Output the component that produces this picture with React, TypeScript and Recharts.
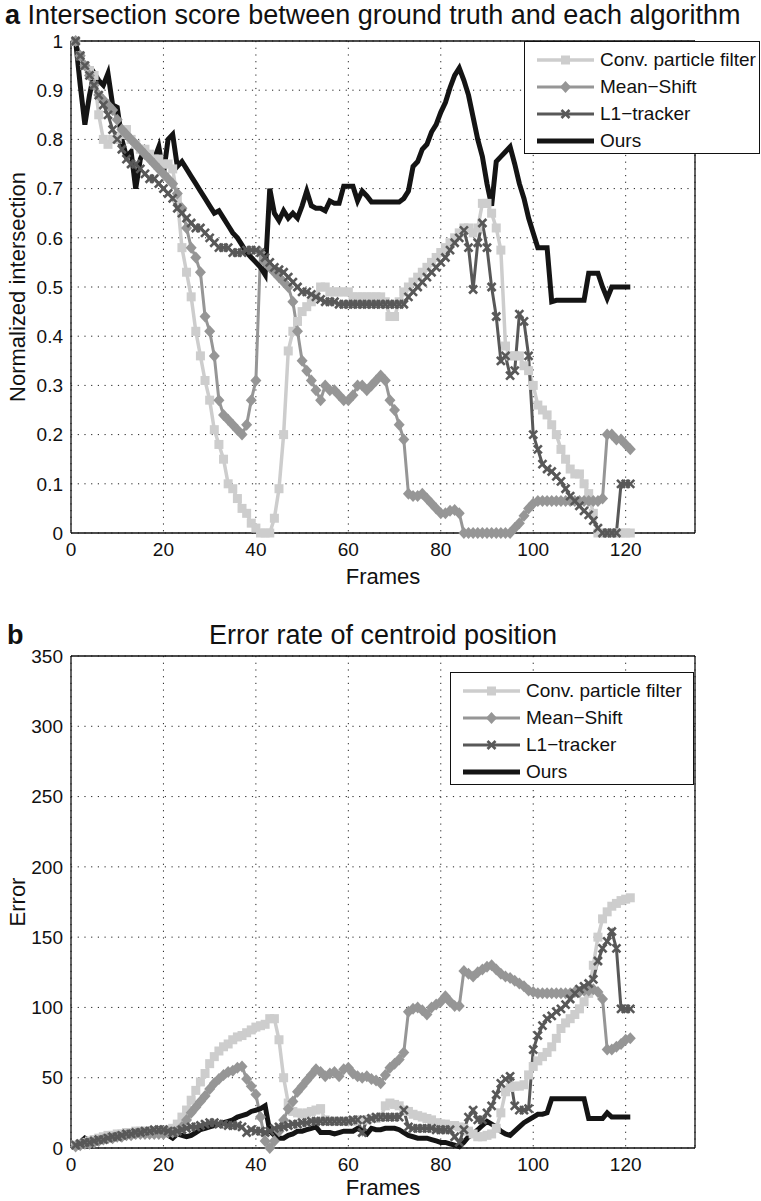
import React from 'react';
import { LineChart, Line, XAxis, YAxis, CartesianGrid, Legend } from 'recharts';

const frames = [
  1, 2, 3, 4, 5, 6, 7, 8, 9, 10,
  11, 12, 13, 14, 15, 16, 17, 18, 19, 20,
  21, 22, 23, 24, 25, 26, 27, 28, 29, 30,
  31, 32, 33, 34, 35, 36, 37, 38, 39, 40,
  41, 42, 43, 44, 45, 46, 47, 48, 49, 50,
  51, 52, 53, 54, 55, 56, 57, 58, 59, 60,
  61, 62, 63, 64, 65, 66, 67, 68, 69, 70,
  71, 72, 73, 74, 75, 76, 77, 78, 79, 80,
  81, 82, 83, 84, 85, 86, 87, 88, 89, 90,
  91, 92, 93, 94, 95, 96, 97, 98, 99, 100,
  101, 102, 103, 104, 105, 106, 107, 108, 109, 110,
  111, 112, 113, 114, 115, 116, 117, 118, 119, 120, 121,
];

const xTicks = [0, 20, 40, 60, 80, 100, 120];
const yTicksA = [0, 0.1, 0.2, 0.3, 0.4, 0.5, 0.6, 0.7, 0.8, 0.9, 1];
const yTicksB = [0, 50, 100, 150, 200, 250, 300, 350];

const seriesNames = ['Conv. particle filter', 'Mean\u2212Shift', 'L1\u2212tracker', 'Ours'];

// (a) Normalized intersection
const pfA = [
  1.0, 0.97, 0.95, 0.94, 0.93, 0.85, 0.80, 0.79, 0.80, 0.80,
  0.81, 0.82, 0.80, 0.79, 0.78, 0.78, 0.77, 0.76, 0.76, 0.75,
  0.75, 0.74, 0.68, 0.58, 0.53, 0.48, 0.41, 0.36, 0.31, 0.27,
  0.21, 0.18, 0.15, 0.10, 0.09, 0.07, 0.05, 0.04, 0.02, 0.01,
  0.0, 0.0, 0.0, 0.03, 0.09, 0.20, 0.37, 0.41, 0.43, 0.45,
  0.46, 0.47, 0.48, 0.50, 0.50, 0.49, 0.49, 0.49, 0.49, 0.49,
  0.48, 0.48, 0.48, 0.48, 0.48, 0.48, 0.48, 0.47, 0.44, 0.44,
  0.47, 0.49, 0.50, 0.51, 0.52, 0.53, 0.54, 0.55, 0.56, 0.57,
  0.58, 0.59, 0.60, 0.61, 0.62, 0.62, 0.61, 0.62, 0.67, 0.67,
  0.65, 0.62, 0.575, 0.38, 0.36, 0.36, 0.36, 0.34, 0.33, 0.30,
  0.26, 0.25, 0.24, 0.22, 0.20, 0.17, 0.15, 0.13, 0.12, 0.12,
  0.10, 0.08, 0.04, 0.0, 0.0, 0.0, 0.0, 0.0, 0.0, 0.0, 0.0,
];
const msA = [
  1.0, 0.97, 0.95, 0.93, 0.91, 0.89, 0.88, 0.87, 0.86, 0.84,
  0.82, 0.81, 0.80, 0.79, 0.78, 0.77, 0.76, 0.75, 0.74, 0.73,
  0.72, 0.71, 0.69, 0.66, 0.62, 0.58, 0.56, 0.53, 0.44, 0.41,
  0.36, 0.27, 0.24, 0.23, 0.22, 0.21, 0.20, 0.22, 0.27, 0.31,
  0.57, 0.55, 0.54, 0.53, 0.52, 0.51, 0.50, 0.47, 0.41, 0.35,
  0.33, 0.31, 0.29, 0.27, 0.30, 0.29, 0.29, 0.28, 0.27, 0.27,
  0.28, 0.30, 0.30, 0.29, 0.30, 0.31, 0.32, 0.31, 0.27, 0.25,
  0.22, 0.19, 0.08, 0.075, 0.075, 0.08, 0.07, 0.06, 0.05, 0.04,
  0.04, 0.045, 0.047, 0.04, 0.0, 0.0, 0.0, 0.0, 0.0, 0.0,
  0.0, 0.0, 0.0, 0.0, 0.0, 0.01, 0.02, 0.035, 0.05, 0.06,
  0.065, 0.065, 0.065, 0.065, 0.065, 0.065, 0.065, 0.065, 0.065, 0.065,
  0.065, 0.065, 0.065, 0.065, 0.07, 0.20, 0.20, 0.19, 0.19, 0.18, 0.17,
];
const l1A = [
  1.0, 0.97, 0.95, 0.93, 0.91, 0.89, 0.87, 0.85, 0.82, 0.80,
  0.78, 0.76, 0.75, 0.75, 0.74, 0.73, 0.72, 0.72, 0.71, 0.70,
  0.69, 0.68, 0.66, 0.65, 0.64, 0.63, 0.62, 0.62, 0.61, 0.60,
  0.59, 0.58, 0.58, 0.58, 0.57, 0.57, 0.57, 0.575, 0.575, 0.575,
  0.57, 0.56, 0.55, 0.54, 0.535, 0.53, 0.52, 0.51, 0.50, 0.49,
  0.49, 0.485, 0.48, 0.475, 0.47, 0.47, 0.47, 0.465, 0.465, 0.465,
  0.465, 0.465, 0.465, 0.465, 0.465, 0.465, 0.465, 0.465, 0.465, 0.465,
  0.465, 0.465, 0.48, 0.49, 0.50, 0.51, 0.52, 0.53, 0.54, 0.55,
  0.56, 0.575, 0.59, 0.60, 0.615, 0.58, 0.495, 0.59, 0.63, 0.58,
  0.50, 0.44, 0.35, 0.36, 0.32, 0.33, 0.445, 0.43, 0.36, 0.20,
  0.17, 0.14, 0.13, 0.125, 0.115, 0.105, 0.09, 0.075, 0.065, 0.055,
  0.045, 0.037, 0.025, 0.01, 0.0, 0.0, 0.0, 0.0, 0.10, 0.10, 0.10,
];
const oursA = [
  1.0, 0.91, 0.83, 0.89, 0.935, 0.92, 0.91, 0.934, 0.87, 0.865,
  0.80, 0.765, 0.775, 0.70, 0.76, 0.78, 0.765, 0.76, 0.785, 0.73,
  0.80, 0.81, 0.745, 0.755, 0.74, 0.725, 0.71, 0.695, 0.68, 0.665,
  0.65, 0.655, 0.64, 0.625, 0.61, 0.60, 0.585, 0.57, 0.56, 0.55,
  0.54, 0.525, 0.70, 0.65, 0.635, 0.655, 0.64, 0.65, 0.64, 0.665,
  0.695, 0.665, 0.66, 0.66, 0.655, 0.675, 0.67, 0.67, 0.705, 0.705,
  0.705, 0.675, 0.695, 0.685, 0.673, 0.673, 0.673, 0.673, 0.673, 0.673,
  0.673, 0.68, 0.695, 0.745, 0.755, 0.78, 0.79, 0.815, 0.83, 0.855,
  0.875, 0.905, 0.93, 0.945, 0.92, 0.89, 0.845, 0.80, 0.765, 0.71,
  0.665, 0.755, 0.765, 0.775, 0.785, 0.75, 0.71, 0.68, 0.64, 0.61,
  0.58, 0.58, 0.58, 0.47, 0.473, 0.473, 0.473, 0.473, 0.473, 0.473,
  0.473, 0.528, 0.528, 0.528, 0.50, 0.477, 0.50, 0.50, 0.50, 0.50, 0.50,
];

// (b) Error of centroid position
const pfB = [
  2, 3, 4, 5, 6, 7, 8, 9, 9, 10,
  10, 11, 11, 12, 12, 12, 12, 12, 12, 12,
  13, 14, 17, 22, 27, 34, 41, 47, 53, 60,
  65, 69, 72, 74, 77, 79, 80, 82, 84, 86,
  87, 88, 92, 92, 77, 50, 32, 26, 25, 24,
  25, 26, 27, 28, 20, 19, 19, 19, 19, 19,
  19, 20, 20, 20, 21, 21, 22, 30, 32, 31,
  30, 27, 26, 24, 23, 22, 21, 20, 18, 17,
  17, 16, 16, 15, 14, 12, 10, 8, 8, 9,
  10, 14, 25, 40, 43, 44, 44, 45, 52, 58,
  62, 65, 68, 72, 78, 85, 89, 92, 95, 99,
  104, 110, 130, 150, 163, 168, 172, 174, 176, 177, 178,
];
const msB = [
  1, 2, 3, 3, 4, 5, 6, 7, 7, 8,
  8, 9, 9, 10, 10, 10, 10, 10, 10, 10,
  11, 11, 12, 15, 20, 25, 29, 33, 37, 42,
  46, 49, 52, 54, 55, 57, 58, 49, 44, 38,
  22, 5, 0, 5, 12, 20, 28, 33, 40, 44,
  48, 52, 56, 54, 51, 53, 54, 51, 56, 57,
  53, 51, 50, 51, 49, 48, 46, 52, 57, 60,
  63, 68, 97, 99, 100, 98, 95, 100, 102, 104,
  108, 104, 101, 101, 126, 124, 122, 125, 127, 129,
  130, 127, 124, 122, 121, 119, 117, 115, 112, 111,
  110, 110, 110, 110, 110, 110, 110, 110, 111, 111,
  112, 112, 113, 111, 106, 70, 70, 72, 74, 77, 78,
];
const l1B = [
  2, 3, 4, 4, 5, 6, 6, 7, 8, 8,
  9, 10, 10, 11, 11, 12, 12, 13, 13, 13,
  12, 11, 12, 13, 14, 15, 15, 16, 17, 18,
  18, 17, 17, 16, 16, 16, 15, 11, 13, 12,
  12, 11, 12, 14, 15, 15, 16, 17, 17, 18,
  18, 19, 19, 19, 19, 19, 19, 19, 19, 19,
  20, 20, 11, 20, 21, 22, 22, 22, 22, 22,
  22, 27, 15, 14, 14, 14, 14, 14, 13, 13,
  13, 13, 8, 4, 13, 22, 27, 20, 20, 25,
  30, 38, 46, 49, 51, 30, 27, 27, 28, 70,
  80, 87, 92, 94, 97, 99, 102, 106, 110, 113,
  115, 117, 120, 133, 142, 147, 154, 142, 99, 99, 99,
];
const oursB = [
  1, 4, 7, 5, 4, 5, 6, 8, 8, 9,
  10, 11, 12, 13, 12, 11, 11, 11, 11, 12,
  9, 7, 10, 9, 8, 9, 11, 13, 14, 15,
  16, 17, 18, 19, 20, 22, 23, 24, 26, 27,
  28, 30, 12, 9, 7, 7, 9, 10, 12, 12,
  13, 14, 15, 11, 11, 11, 10, 11, 12, 12,
  12, 14, 12, 10, 14, 13, 13, 14, 14, 14,
  13, 11, 9, 8, 7, 7, 7, 6, 5, 4,
  4, 3, 2, 1, 4, 8, 10, 13, 16, 19,
  17, 15, 12, 10, 9, 12, 15, 18, 20, 22,
  24, 24, 25, 35, 35, 35, 35, 35, 35, 35,
  35, 21, 21, 21, 21, 25, 22, 22, 22, 22, 22,
];

const dataA = frames.map((f, i) => ({ frame: f, pf: pfA[i], ms: msA[i], l1: l1A[i], ours: oursA[i] }));
const dataB = frames.map((f, i) => ({ frame: f, pf: pfB[i], ms: msB[i], l1: l1B[i], ours: oursB[i] }));

const C_PF = '#cdcdcd';
const C_MS = '#969696';
const C_L1 = '#585858';
const C_OURS = '#141414';
const FONT = '"Liberation Sans", Arial, Helvetica, sans-serif';

const SquareDot = (props: any) => {
  const { cx, cy, index } = props;
  if (cx == null || cy == null) return <g key={`sq-${index}`} />;
  return <rect key={`sq-${index}`} x={cx - 4.5} y={cy - 4.5} width={9} height={9} fill={C_PF} />;
};
const DiamondDot = (props: any) => {
  const { cx, cy, index } = props;
  if (cx == null || cy == null) return <g key={`dm-${index}`} />;
  return (
    <polygon
      key={`dm-${index}`}
      points={`${cx},${cy - 6} ${cx + 5.5},${cy} ${cx},${cy + 6} ${cx - 5.5},${cy}`}
      fill={C_MS}
    />
  );
};
const CrossDot = (props: any) => {
  const { cx, cy, index } = props;
  if (cx == null || cy == null) return <g key={`x-${index}`} />;
  const r = 4;
  return (
    <g key={`x-${index}`} stroke={C_L1} strokeWidth={2.6}>
      <line x1={cx - r} y1={cy - r} x2={cx + r} y2={cy + r} />
      <line x1={cx - r} y1={cy + r} x2={cx + r} y2={cy - r} />
    </g>
  );
};

const LegendIcon = ({ kind }: { kind: number }) => {
  const w = 57;
  const cx = w / 2;
  const cy = 8;
  if (kind === 0)
    return (
      <svg width={w} height={16} style={{ display: 'block' }}>
        <line x1={0} y1={cy} x2={w} y2={cy} stroke={C_PF} strokeWidth={3.5} />
        <rect x={cx - 4.5} y={cy - 4.5} width={9} height={9} fill={C_PF} />
      </svg>
    );
  if (kind === 1)
    return (
      <svg width={w} height={16} style={{ display: 'block' }}>
        <line x1={0} y1={cy} x2={w} y2={cy} stroke={C_MS} strokeWidth={3} />
        <polygon points={`${cx},${cy - 6} ${cx + 5.5},${cy} ${cx},${cy + 6} ${cx - 5.5},${cy}`} fill={C_MS} />
      </svg>
    );
  if (kind === 2)
    return (
      <svg width={w} height={16} style={{ display: 'block' }}>
        <line x1={0} y1={cy} x2={w} y2={cy} stroke={C_L1} strokeWidth={3} />
        <g stroke={C_L1} strokeWidth={2.6}>
          <line x1={cx - 4} y1={cy - 4} x2={cx + 4} y2={cy + 4} />
          <line x1={cx - 4} y1={cy + 4} x2={cx + 4} y2={cy - 4} />
        </g>
      </svg>
    );
  return (
    <svg width={w} height={16} style={{ display: 'block' }}>
      <line x1={0} y1={cy} x2={w} y2={cy} stroke={C_OURS} strokeWidth={5} />
    </svg>
  );
};

const makeLegend = (boxWidth: number) => () => (
  <div
    style={{
      width: boxWidth,
      height: 113,
      boxSizing: 'border-box',
      border: '1.3px solid #111',
      background: '#fff',
      paddingTop: 4,
      fontFamily: FONT,
      fontSize: 19,
      color: '#111',
    }}
  >
    {seriesNames.map((name, i) => (
      <div key={name} style={{ display: 'flex', alignItems: 'center', height: 27 }}>
        <div style={{ marginLeft: 12, width: 57 }}>
          <LegendIcon kind={i} />
        </div>
        <div style={{ marginLeft: 6, whiteSpace: 'nowrap', lineHeight: '19px' }}>{name}</div>
      </div>
    ))}
  </div>
);

const tickStyle = { fill: '#111', fontSize: 19, fontFamily: FONT };

const renderChart = (
  data: any[],
  yDomain: number[],
  yTicks: number[],
  legendLeft: number,
  legendTop: number,
  legendWidth: number
) => (
  <LineChart width={761} height={600} data={data} margin={{ top: 41, right: 66, left: 11, bottom: 37 }}>
    <CartesianGrid
      xAxisId="main"
      yAxisId="main"
      stroke="#222"
      strokeDasharray="1.2 5.5"
      strokeWidth={1}
    />
    <XAxis
      xAxisId="main"
      dataKey="frame"
      type="number"
      domain={[0, 135]}
      ticks={xTicks}
      interval={0}
      height={30}
      tickLine={false}
      tickSize={4}
      tickMargin={6}
      axisLine={{ stroke: '#111', strokeWidth: 1.3 }}
      tick={tickStyle}
    />
    <XAxis
      xAxisId="top"
      orientation="top"
      type="number"
      domain={[0, 135]}
      ticks={xTicks}
      interval={0}
      mirror
      tick={false}
      tickSize={6}
      tickLine={{ stroke: '#111' }}
      axisLine={{ stroke: '#111', strokeWidth: 1.3 }}
    />
    <XAxis
      xAxisId="bottomTicks"
      orientation="bottom"
      type="number"
      domain={[0, 135]}
      ticks={xTicks}
      interval={0}
      mirror
      tick={false}
      tickSize={6}
      tickLine={{ stroke: '#111' }}
      axisLine={false}
    />
    <YAxis
      yAxisId="main"
      type="number"
      domain={yDomain}
      ticks={yTicks}
      interval={0}
      width={60}
      tickLine={false}
      tickSize={3}
      tickMargin={5}
      axisLine={{ stroke: '#111', strokeWidth: 1.3 }}
      tick={tickStyle}
      tickFormatter={(v: number) => String(v)}
    />
    <YAxis
      yAxisId="right"
      orientation="right"
      type="number"
      domain={yDomain}
      ticks={yTicks}
      interval={0}
      mirror
      tick={false}
      tickSize={6}
      tickLine={{ stroke: '#111' }}
      axisLine={{ stroke: '#111', strokeWidth: 1.3 }}
    />
    <YAxis
      yAxisId="leftTicks"
      orientation="left"
      type="number"
      domain={yDomain}
      ticks={yTicks}
      interval={0}
      mirror
      tick={false}
      tickSize={6}
      tickLine={{ stroke: '#111' }}
      axisLine={false}
    />
    <Legend
      layout="vertical"
      align="center"
      verticalAlign="middle"
      content={makeLegend(legendWidth)}
      wrapperStyle={{ position: 'absolute', left: legendLeft, top: legendTop, width: legendWidth, height: 113 }}
    />
    <Line
      xAxisId="main"
      yAxisId="main"
      name={seriesNames[0]}
      dataKey="pf"
      type="linear"
      stroke={C_PF}
      strokeWidth={3.5}
      dot={SquareDot}
      activeDot={false}
      isAnimationActive={false}
    />
    <Line
      xAxisId="main"
      yAxisId="main"
      name={seriesNames[1]}
      dataKey="ms"
      type="linear"
      stroke={C_MS}
      strokeWidth={3}
      dot={DiamondDot}
      activeDot={false}
      isAnimationActive={false}
    />
    <Line
      xAxisId="main"
      yAxisId="main"
      name={seriesNames[2]}
      dataKey="l1"
      type="linear"
      stroke={C_L1}
      strokeWidth={3}
      dot={CrossDot}
      activeDot={false}
      isAnimationActive={false}
    />
    <Line
      xAxisId="main"
      yAxisId="main"
      name={seriesNames[3]}
      dataKey="ours"
      type="linear"
      stroke={C_OURS}
      strokeWidth={5}
      dot={false}
      activeDot={false}
      isAnimationActive={false}
    />
  </LineChart>
);

const textBase: React.CSSProperties = {
  position: 'absolute',
  fontFamily: FONT,
  color: '#111',
  lineHeight: 1,
  whiteSpace: 'nowrap',
};

export default function App() {
  return (
    <div style={{ position: 'absolute', left: 0, top: 0, width: 761, height: 1201, background: '#fff', overflow: 'hidden' }}>
      <div style={{ position: 'absolute', left: 0, top: 0 }}>
        {renderChart(dataA, [0, 1], yTicksA, 524, 41, 236)}
      </div>
      <div style={{ position: 'absolute', left: 0, top: 615 }}>
        {renderChart(dataB, [0, 350], yTicksB, 450, 57, 244)}
      </div>

      <div style={{ ...textBase, left: 5, top: 2, fontSize: 27 }}>
        <b>a</b> Intersection score between ground truth and each algorithm
      </div>
      <div style={{ ...textBase, left: 383, top: 566, fontSize: 22, transform: 'translateX(-50%)' }}>Frames</div>
      <div
        style={{
          ...textBase,
          left: 18,
          top: 287,
          fontSize: 22,
          transform: 'translate(-50%, -50%) rotate(-90deg)',
        }}
      >
        Normalized intersection
      </div>

      <div style={{ ...textBase, left: 7, top: 622, fontSize: 27, fontWeight: 'bold' }}>b</div>
      <div style={{ ...textBase, left: 383, top: 622, fontSize: 27, transform: 'translateX(-50%)' }}>
        Error rate of centroid position
      </div>
      <div style={{ ...textBase, left: 383, top: 1177, fontSize: 22, transform: 'translateX(-50%)' }}>Frames</div>
      <div
        style={{
          ...textBase,
          left: 18,
          top: 902,
          fontSize: 22,
          transform: 'translate(-50%, -50%) rotate(-90deg)',
        }}
      >
        Error
      </div>
    </div>
  );
}
